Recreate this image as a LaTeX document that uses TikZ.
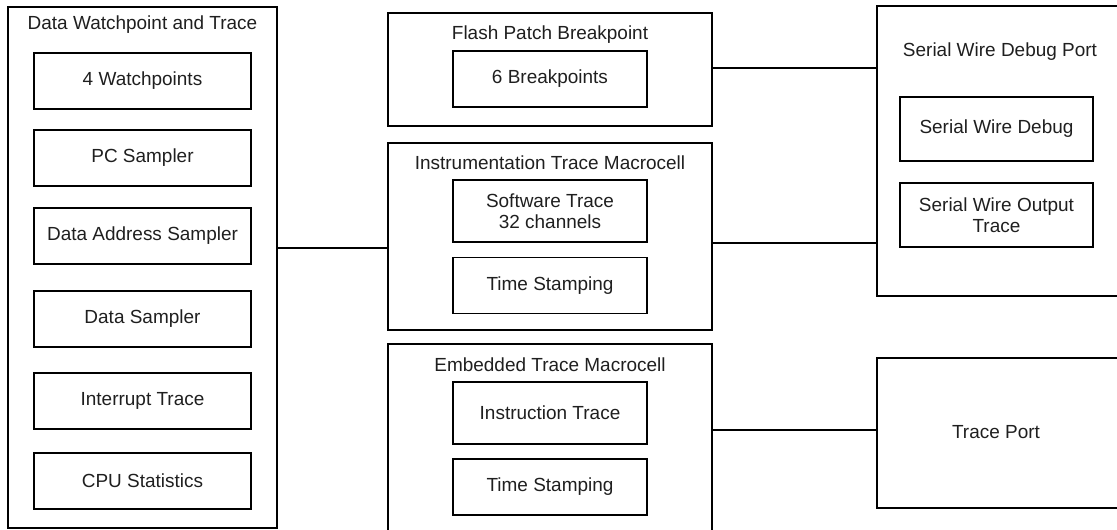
\documentclass[tikz,border=0pt]{standalone}
\usepackage{fontspec}
\setmainfont{Liberation Sans}
\usetikzlibrary{positioning}

\begin{document}
\begin{tikzpicture}[
    x=0.02cm, y=-0.02cm,
    font=\fontsize{10.8}{12.2}\selectfont,
    text=black!88,
    group/.style={draw, line width=1pt, inner sep=0pt},
    unit/.style={draw, line width=1pt, align=center, inner sep=2pt, minimum height=1.12cm},
    title/.style={inner sep=0pt, align=center},
    link/.style={line width=1pt}
]
    \clip (0,0) rectangle (1117,529);

    % Data Watchpoint and Trace
    \node[group, minimum width=5.38cm, minimum height=10.42cm] (dwt) at (142.5,267.5) {};
    \node[title] (dwttitle) at (142.5,25) {Data Watchpoint and Trace};
    \node[unit, minimum width=4.34cm] (watch) at (142.5,81) {4 Watchpoints};
    \node[unit, minimum width=4.34cm] (pcs) at (142.5,158) {PC Sampler};
    \node[unit, minimum width=4.34cm] (das) at (142.5,236) {Data Address Sampler};
    \node[unit, minimum width=4.34cm] (ds) at (142.5,319) {Data Sampler};
    \node[unit, minimum width=4.34cm] (irq) at (142.5,401) {Interrupt Trace};
    \node[unit, minimum width=4.34cm] (cpu) at (142.5,481) {CPU Statistics};

    % Flash Patch Breakpoint
    \node[group, minimum width=6.48cm, minimum height=2.26cm] (fpb) at (550,69.5) {};
    \node[title] (fpbtitle) at (550,35) {Flash Patch Breakpoint};
    \node[unit, minimum width=3.88cm] (bkpt) at (550,79) {6 Breakpoints};

    % Instrumentation Trace Macrocell
    \node[group, minimum width=6.48cm, minimum height=3.74cm] (itm) at (550,236.5) {};
    \node[title] (itmtitle) at (550,163) {Instrumentation Trace Macrocell};
    \node[unit, minimum width=3.88cm, minimum height=1.24cm] (swt) at (550,211) {Software Trace\\32 channels};
    \node[unit, minimum width=3.88cm] (itmts) at (550,285.5) {Time Stamping};

    % Embedded Trace Macrocell
    \node[group, minimum width=6.48cm, minimum height=4.02cm] (etm) at (550,444.5) {};
    \node[title] (etmtitle) at (550,365) {Embedded Trace Macrocell};
    \node[unit, minimum width=3.88cm, minimum height=1.24cm] (instr) at (550,413) {Instruction Trace};
    \node[unit, minimum width=3.88cm] (etmts) at (550,487) {Time Stamping};

    % Serial Wire Debug Port
    \node[group, minimum width=5.16cm, minimum height=5.8cm] (swdp) at (1006,151) {};
    \node[title] (swdptitle) at (1000,52) {Serial Wire Debug Port};
    \node[unit, minimum width=3.86cm, minimum height=1.28cm] (swd) at (996.5,129) {Serial Wire Debug};
    \node[unit, minimum width=3.86cm, minimum height=1.28cm] (swo) at (996.5,215) {Serial Wire Output\\Trace};

    % Trace Port
    \node[group, minimum width=5.16cm, minimum height=3cm] (tp) at (1006,433) {};
    \node[title] (tptitle) at (996,432) {Trace Port};

    \coordinate (dwtlink) at (0,248);
    \coordinate (itmlink) at (0,243);
    \coordinate (etmlink) at (0,430);

    \draw[link] (dwt.east |- dwtlink) -- (itm.west |- dwtlink);
    \draw[link] (fpb.east |- 0,68) -- (swdp.west |- 0,68);
    \draw[link] (itm.east |- itmlink) -- (swdp.west |- itmlink);
    \draw[link] (etm.east |- etmlink) -- (tp.west |- etmlink);
\end{tikzpicture}
\end{document}
